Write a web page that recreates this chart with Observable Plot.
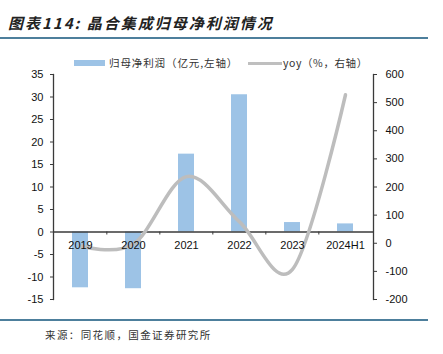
<!DOCTYPE html>
<html>
<head>
<meta charset="utf-8">
<script src="https://cdn.jsdelivr.net/npm/d3@7"></script>
<script src="https://cdn.jsdelivr.net/npm/@observablehq/plot@0.6"></script>
<style>
  html, body { margin: 0; padding: 0; background: #fff; }
  body { width: 443px; height: 354px; position: relative; overflow: hidden; font-family: "Liberation Sans", Arial, sans-serif; }
  .title { position: absolute; left: 8px; top: 13px; font-family: "Noto Sans CJK SC", sans-serif; font-size: 15px; font-weight: bold; font-style: italic; color: #222; letter-spacing: 2px; white-space: nowrap; line-height: 20px; }
  .rule-top { position: absolute; left: 0; top: 37px; width: 428px; height: 2px; background: #4d7f9c; }
  .rule-bot { position: absolute; left: 0; top: 319px; width: 428px; height: 1.5px; background: #4d7f9c; }
  .legend { position: absolute; top: 55px; left: 0; height: 16px; width: 443px; font-family: "Noto Sans CJK SC", sans-serif; font-size: 10.5px; color: #333; white-space: nowrap; }
  .legend .sw-bar { position: absolute; left: 74px; top: 5px; width: 31px; height: 6px; background: #9dc3e6; }
  .legend .t1 { position: absolute; left: 109px; top: 0; line-height: 16px; letter-spacing: 0.9px; }
  .legend .sw-line { position: absolute; left: 248px; top: 6.5px; width: 34px; height: 3px; background: #bfbfbf; }
  .legend .t2 { position: absolute; left: 283px; top: 0; line-height: 16px; letter-spacing: 0.6px; }
  .source { position: absolute; left: 45px; top: 327px; font-family: "Noto Sans CJK SC", sans-serif; font-size: 10.5px; color: #333; letter-spacing: 1.4px; line-height: 16px; white-space: nowrap; }
  #chart { position: absolute; left: 0; top: 56px; }
</style>
</head>
<body>
<div class="title">图表114: 晶合集成归母净利润情况</div>
<div class="rule-top"></div>
<div class="legend">
  <div class="sw-bar"></div><div class="t1">归母净利润（亿元,左轴）</div>
  <div class="sw-line"></div><div class="t2">yoy（%，右轴）</div>
</div>
<div id="chart"></div>
<div class="rule-bot"></div>
<div class="source">来源：同花顺，国金证券研究所</div>
<script>
const categories = ["2019", "2020", "2021", "2022", "2023", "2024H1"];
const profit = [-12.4, -12.6, 17.3, 30.5, 2.1, 1.8];      // 亿元, left axis
const yoy = [-10, -3, 237, 76, -93, 528];                 // %, right axis
const leftTicks = [-15, -10, -5, 0, 5, 10, 15, 20, 25, 30, 35];
const rightTicks = [-200, -100, 0, 100, 200, 300, 400, 500, 600];

const W = 443, H = 260, mL = 53, mR = 70, mT = 18, mB = 17;
const leftDomain = [-15, 35];
const rightDomain = [-200, 600];
// map right-axis values onto left-axis units
const toLeft = v => leftDomain[0] + (v - rightDomain[0]) / (rightDomain[1] - rightDomain[0]) * (leftDomain[1] - leftDomain[0]);
const fromLeft = v => rightDomain[0] + (v - leftDomain[0]) / (leftDomain[1] - leftDomain[0]) * (rightDomain[1] - rightDomain[0]);

const rows = categories.map((c, i) => ({cat: c, profit: profit[i], yoy: yoy[i]}));
const step = (W - mL - mR) / categories.length;
const pxPerUnit = (H - mT - mB) / (leftDomain[1] - leftDomain[0]);
const tickLen = 3 / pxPerUnit;
const axisColor = "#3a3a3a";

const chart = Plot.plot({
  width: W,
  height: H,
  marginLeft: mL,
  marginRight: mR,
  marginTop: mT,
  marginBottom: mB,
  style: {fontFamily: "'Liberation Sans', Arial, sans-serif", fontSize: "11px", background: "transparent", overflow: "visible"},
  x: {type: "band", domain: categories, paddingInner: 0.69, paddingOuter: 0.345, align: 0.5, axis: null},
  y: {domain: leftDomain, axis: null},
  marks: [
    Plot.barY(rows, {x: "cat", y: "profit", fill: "#9dc3e6"}),
    Plot.ruleY([0], {stroke: axisColor, strokeWidth: 1.3}),
    Plot.ruleX(categories.slice(1), {x: d => d, y1: 0, y2: -tickLen, dx: -step / 2, stroke: axisColor, strokeWidth: 1}),
    Plot.line(rows, {x: "cat", y: d => toLeft(d.yoy), stroke: "#bdbdbd", strokeWidth: 3.5, curve: "cardinal", tension: 0, strokeLinecap: "round"}),
    Plot.text(rows, {x: "cat", y: 0, text: "cat", dy: 13.5, fill: "#111", fontSize: 11, lineAnchor: "middle"}),
    Plot.frame({anchor: "left", stroke: axisColor, strokeWidth: 1.3}),
    Plot.frame({anchor: "right", stroke: axisColor, strokeWidth: 1.3}),
    Plot.axisY(leftTicks, {anchor: "left", label: null, tickSize: 3, tickPadding: 7, stroke: axisColor, fill: "#111", fontSize: 11, tickFormat: d => String(d)}),
    Plot.axisY(rightTicks.map(toLeft), {anchor: "right", label: null, tickSize: 3, tickPadding: 9, stroke: axisColor, fill: "#111", fontSize: 11, tickFormat: d => String(Math.round(fromLeft(d)))})
  ]
});
document.getElementById("chart").appendChild(chart);
</script>
</body>
</html>
